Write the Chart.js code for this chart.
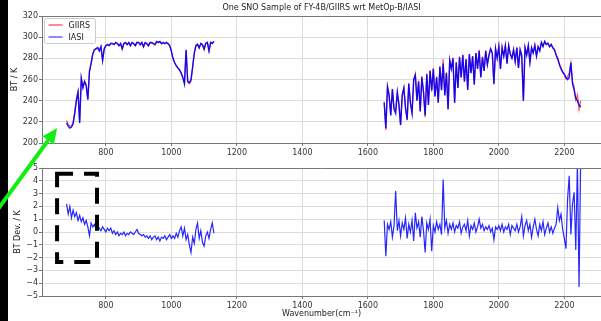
<!DOCTYPE html>
<html>
<head>
<meta charset="utf-8">
<script src="https://cdn.jsdelivr.net/npm/chart.js@4.4.1/dist/chart.umd.min.js"></script>
<style>
    html, body { margin: 0; padding: 0; background: #fff; }
    #wrap { position: relative; width: 601px; height: 321px; overflow: hidden; }
    #wrap canvas { position: absolute; left: 0; }
    #strip { position: absolute; left: 0; top: 0; width: 8px; height: 321px; background: #000; z-index: 1; }
</style>
</head>
<body>
<div id="wrap">
    <canvas id="top-chart" width="601" height="160" style="top:0;"></canvas>
    <canvas id="bottom-chart" width="601" height="161" style="top:160px;"></canvas>
    <div id="strip"></div>
    <canvas id="marks" width="601" height="321" style="top:0;z-index:2;"></canvas>
</div>
<script>
const TITLE = 'One SNO Sample of FY-4B/GIIRS wrt MetOp-B/IASI';
const X_TICKS = [800, 1000, 1200, 1400, 1600, 1800, 2000, 2200];

// --- LWIR band (cm-1) ---
const BAND1_WN = [
    680, 685, 690, 695, 700, 705, 710, 715, 720, 725,
    730, 735, 740, 745, 750, 755, 760, 765, 770, 775,
    780, 785, 790, 795, 800, 805, 810, 815, 820, 825,
    830, 835, 840, 845, 850, 855, 860, 865, 870, 875,
    880, 885, 890, 895, 900, 905, 910, 915, 920, 925,
    930, 935, 940, 945, 950, 955, 960, 965, 970, 975,
    980, 985, 990, 995, 1000, 1005, 1010, 1015, 1020, 1025,
    1030, 1035, 1040, 1045, 1050, 1055, 1060, 1065, 1070, 1075,
    1080, 1085, 1090, 1095, 1100, 1105, 1110, 1115, 1120, 1125,
    1130
];
const BAND1_IASI = [
    219, 216, 214, 215, 218, 228, 240, 248, 219, 261,
    252, 258, 254, 241, 268, 275, 284, 288, 289, 290,
    287, 291, 278, 289, 292, 293, 292, 294, 294, 293,
    295, 294, 292, 294, 289, 294, 295, 293, 295, 292,
    295, 294, 292, 295, 295, 293, 295, 291, 295, 294,
    292, 295, 295, 294, 293, 296, 295, 296, 294, 295,
    294, 295, 294, 292, 287, 280, 276, 273, 271, 269,
    266, 262, 256, 288, 258, 257, 260, 272, 285, 292,
    293, 290, 294, 293, 289, 294, 295, 287, 295, 294,
    296
];
const BAND1_DEV = [
    2.2, 1.4, 2.0, 1.1, 1.7, 1.2, 1.5, 0.9, 1.3, 0.8,
    1.1, 0.6, 0.9, 0.4, -0.3, 0.7, 0.4, 0.6, 0.2, 0.5,
    0.3, 0.1, 0.4, 0.2, 0.0, 0.3, 0.1, 0.3, -0.1, 0.1,
    -0.2, 0.0, -0.3, -0.1, -0.2, 0.0, -0.3, -0.1, -0.2, 0.0,
    -0.1, -0.2, 0.0, 0.2, -0.1, -0.2, -0.3, -0.2, -0.4, -0.3,
    -0.5, -0.3, -0.6, -0.4, -0.3, -0.6, -0.4, -0.7, -0.4, -0.5,
    -0.3, -0.6, -0.4, -0.2, -0.5, -0.3, -0.5, -0.1, -0.4, 0.1,
    0.4, -0.3, 0.3, -0.6, -0.2, -1.0, -1.6, -0.4, -0.9, 0.2,
    0.7, -0.5, 0.1, -0.8, -1.1, -0.3, 0.0, -0.5, 0.2, 0.7,
    -0.1
];

// --- MWIR band (cm-1) ---
const BAND2_WN = [
    1650, 1655, 1660, 1665, 1670, 1675, 1680, 1685, 1690, 1695,
    1700, 1705, 1710, 1715, 1720, 1725, 1730, 1735, 1740, 1745,
    1750, 1755, 1760, 1765, 1770, 1775, 1780, 1785, 1790, 1795,
    1800, 1805, 1810, 1815, 1820, 1825, 1830, 1835, 1840, 1845,
    1850, 1855, 1860, 1865, 1870, 1875, 1880, 1885, 1890, 1895,
    1900, 1905, 1910, 1915, 1920, 1925, 1930, 1935, 1940, 1945,
    1950, 1955, 1960, 1965, 1970, 1975, 1980, 1985, 1990, 1995,
    2000, 2005, 2010, 2015, 2020, 2025, 2030, 2035, 2040, 2045,
    2050, 2055, 2060, 2065, 2070, 2075, 2080, 2085, 2090, 2095,
    2100, 2105, 2110, 2115, 2120, 2125, 2130, 2135, 2140, 2145,
    2150, 2155, 2160, 2165, 2170, 2175, 2180, 2185, 2190, 2195,
    2200, 2205, 2210, 2215, 2220, 2225, 2230, 2235, 2240, 2245,
    2250
];
const BAND2_IASI = [
    238, 214, 253, 245, 226, 251, 232, 228, 248, 236,
    217, 245, 252, 233, 222, 256, 238, 228, 260, 264,
    240, 258, 230, 262, 248, 226, 265, 236, 268, 250,
    270, 244, 262, 238, 272, 250, 275, 245, 266, 232,
    278, 270, 280, 238, 276, 252, 281, 262, 283, 258,
    279, 250, 284, 266, 282, 255, 285, 270, 287, 262,
    281, 268, 287, 274, 283, 289, 285, 256, 289, 280,
    291, 270, 290, 282, 292, 275, 292, 284, 280, 288,
    277, 290, 271, 288, 282, 240, 290, 283, 292, 276,
    290, 285, 292, 282, 291, 287, 295, 291, 296, 293,
    294, 291, 293, 290, 288, 283, 279, 274, 270, 267,
    265, 262, 260, 262, 276, 256, 250, 242, 240, 236,
    234
];
const BAND2_DEV = [
    0.9, -1.9, 0.6, 0.2, 0.8, -0.4, 0.5, 3.2, 0.1, 0.9,
    -0.3, 0.7, 0.2, 1.1, -0.5, 0.6, 0.0, 0.9, -0.7, 1.5,
    0.3, 0.8, -0.4, 1.2, 0.1, -1.6, 0.7, 0.2, 1.0, -1.5,
    0.5, 0.0, 0.8, 0.2, 0.6, -0.2, 4.1, 0.3, 0.9, -0.1,
    0.6, 0.2, 0.7, 0.0, 0.5, 0.3, 0.8, -0.1, 0.4, 0.6,
    0.1, 0.9, -0.3, 0.5, 0.2, 0.7, 0.0, 0.4, 1.0, 0.3,
    0.6, 0.1, 0.4, 0.2, 0.5, 0.0, 0.3, -0.6, 0.4, 0.2,
    0.5, 0.1, 0.6, 0.0, 0.4, 0.2, 0.6, -0.2, 0.5, 0.3,
    0.1, 0.6, 0.0, 0.4, 1.2, -0.3, 0.5, 0.9, 0.1, 0.6,
    -0.4, 0.4, 1.0, 0.2, -0.3, 0.6, 0.1, 0.8, -0.2, 0.3,
    0.7, 0.0, 0.4, -0.1, 0.3, 0.6, 1.9, 0.9, 1.4, 0.2,
    -0.5, -1.3, 2.6, 4.4, -0.2, 2.2, 3.1, -1.4, 5.5, -4.3,
    6.0
];

const FONT = 'DejaVu Sans';
const TEXT_COLOR = '#333';
const GRID_COLOR = '#dcdcdc';
const SPINE_COLOR = '#777';
const RED = 'rgba(255, 0, 0, 0.6)';
const BLUE = 'rgba(0, 0, 255, 0.6)';

// GIIRS = IASI + deviation (dev is GIIRS minus IASI)
const BAND1_GIIRS = BAND1_IASI.map((v, i) => +(v + BAND1_DEV[i]).toFixed(1));
const BAND2_GIIRS = BAND2_IASI.map((v, i) => +(v + BAND2_DEV[i]).toFixed(1));

function joinBands(v1, v2) {
    const pts = BAND1_WN.map((w, i) => ({ x: w, y: v1[i] }));
    pts.push({ x: 1390, y: null }); // gap between bands
    return pts.concat(BAND2_WN.map((w, i) => ({ x: w, y: v2[i] })));
}

const minus = v => String(v).replace('-', '\u2212');

function makeScales(yMin, yMax, yStep, xHeight) {
    return {
        x: {
            type: 'linear', min: 605, max: 2312,
            afterBuildTicks: s => { s.ticks = X_TICKS.map(v => ({ value: v })); },
            afterFit: s => { s.height = xHeight; },
            ticks: { color: TEXT_COLOR, font: { family: FONT, size: 8 }, padding: 2, maxRotation: 0, autoSkip: false, callback: v => String(v) },
            grid: { color: GRID_COLOR, tickColor: SPINE_COLOR, tickLength: 3 },
            border: { color: SPINE_COLOR },
        },
        y: {
            min: yMin, max: yMax,
            afterFit: s => { s.width = 42; },
            ticks: { stepSize: yStep, color: TEXT_COLOR, font: { family: FONT, size: 8 }, padding: 1, callback: minus },
            grid: { color: GRID_COLOR, tickColor: SPINE_COLOR, tickLength: 3 },
            border: { color: SPINE_COLOR },
        }
    };
}

// top spine plus axis titles drawn in matplotlib style
function decorPlugin(opts) {
    return {
        id: 'decor',
        afterDraw(chart) {
            const { ctx, chartArea: a } = chart;
            ctx.save();
            ctx.strokeStyle = SPINE_COLOR;
            ctx.lineWidth = 1;
            ctx.beginPath();
            ctx.moveTo(a.left, a.top + 0.5);
            ctx.lineTo(a.right, a.top + 0.5);
            ctx.stroke();

            ctx.fillStyle = '#222';
            ctx.font = `8px "${FONT}"`;
            ctx.textAlign = 'center';
            ctx.textBaseline = 'middle';
            if (opts.title) ctx.fillText(opts.title, (a.left + a.right) / 2, 8);
            if (opts.xLabel) ctx.fillText(opts.xLabel, (a.left + a.right) / 2, opts.xLabelY);

            ctx.save();
            ctx.translate(opts.yLabelX, (a.top + a.bottom) / 2);
            ctx.rotate(-Math.PI / 2);
            ctx.fillText(opts.yLabel, 0, 0);
            ctx.restore();

            if (opts.legend) {
                const bx = 44.5, by = 18.5, bw = 51, bh = 25;
                ctx.fillStyle = 'rgba(255,255,255,0.8)';
                ctx.strokeStyle = '#ccc';
                ctx.beginPath();
                ctx.roundRect(bx, by, bw, bh, 2);
                ctx.fill();
                ctx.stroke();
                opts.legend.forEach((item, i) => {
                    const y = by + 6.5 + i * 12;
                    ctx.strokeStyle = item.color;
                    ctx.lineWidth = 1.5;
                    ctx.beginPath();
                    ctx.moveTo(bx + 4, y);
                    ctx.lineTo(bx + 18, y);
                    ctx.stroke();
                    ctx.fillStyle = '#222';
                    ctx.textAlign = 'left';
                    ctx.fillText(item.label, bx + 24, y + 0.5);
                });
            }
            ctx.restore();
        }
    };
}

const lineDefaults = { pointRadius: 0, tension: 0, spanGaps: false };

const topChart = new Chart(document.getElementById('top-chart'), {
    type: 'line',
    data: {
        datasets: [
            { label: 'IASI', data: joinBands(BAND1_IASI, BAND2_IASI), borderColor: 'rgba(0, 0, 255, 0.92)', borderWidth: 1.4, order: 1, ...lineDefaults },
            { label: 'GIIRS', data: joinBands(BAND1_GIIRS, BAND2_GIIRS), borderColor: 'rgba(255, 0, 0, 0.7)', borderWidth: 1.2, order: 2, ...lineDefaults },
        ]
    },
    options: {
        responsive: false, animation: false, devicePixelRatio: 1,
        layout: { padding: { top: 16, left: 0, right: 0, bottom: 0 } },
        plugins: { legend: { display: false }, tooltip: { enabled: false } },
        scales: makeScales(200, 320, 20, 17),
    },
    plugins: [decorPlugin({
        title: TITLE, yLabel: 'BT / K', yLabelX: 15,
        legend: [{ label: 'GIIRS', color: RED }, { label: 'IASI', color: BLUE }],
    })]
});

const bottomChart = new Chart(document.getElementById('bottom-chart'), {
    type: 'line',
    data: {
        datasets: [
            { label: 'Dev', data: joinBands(BAND1_DEV, BAND2_DEV), borderColor: 'rgba(0, 0, 255, 0.85)', borderWidth: 1.2, ...lineDefaults },
        ]
    },
    options: {
        responsive: false, animation: false, devicePixelRatio: 1,
        layout: { padding: { top: 8, left: 0, right: 0, bottom: 0 } },
        plugins: { legend: { display: false }, tooltip: { enabled: false } },
        scales: makeScales(-5, 5, 1, 25),
    },
    plugins: [decorPlugin({
        yLabel: 'BT Dev. / K', yLabelX: 18,
        xLabel: 'Wavenumber(cm\u207B\u00B9)', xLabelY: 154,
    })]
});

// --- Annotations: dashed box on bottom panel, green arrow on top panel ---
(function drawMarks() {
    const ctx = document.getElementById('marks').getContext('2d');
    const bx = bottomChart.scales.x, by = bottomChart.scales.y;
    const off = 160;
    const x1 = bx.getPixelForValue(651), x2 = bx.getPixelForValue(773);
    const y1 = by.getPixelForValue(4.55) + off, y2 = by.getPixelForValue(-2.35) + off;
    ctx.save();
    ctx.strokeStyle = '#000';
    ctx.lineWidth = 4;
    ctx.setLineDash([16, 11]);
    ctx.beginPath();
    ctx.moveTo(x1, y1);
    ctx.lineTo(x2, y1);
    ctx.lineTo(x2, y2);
    ctx.lineTo(x1, y2);
    ctx.closePath();
    ctx.stroke();
    ctx.restore();

    const tx = topChart.scales.x.getPixelForValue(651);
    const ty = topChart.scales.y.getPixelForValue(214);
    const sx = tx - 62, sy = ty + 85;
    const ang = Math.atan2(ty - sy, tx - sx);
    const head = 15, half = 7;
    const hx = tx - head * Math.cos(ang), hy = ty - head * Math.sin(ang);
    ctx.save();
    ctx.strokeStyle = '#11ee11';
    ctx.fillStyle = '#11ee11';
    ctx.lineWidth = 4;
    ctx.beginPath();
    ctx.moveTo(sx, sy);
    ctx.lineTo(hx, hy);
    ctx.stroke();
    ctx.beginPath();
    ctx.moveTo(tx, ty);
    ctx.lineTo(hx + half * Math.sin(ang), hy - half * Math.cos(ang));
    ctx.lineTo(hx - half * Math.sin(ang), hy + half * Math.cos(ang));
    ctx.closePath();
    ctx.fill();
    ctx.restore();
})();
</script>
</body>
</html>
